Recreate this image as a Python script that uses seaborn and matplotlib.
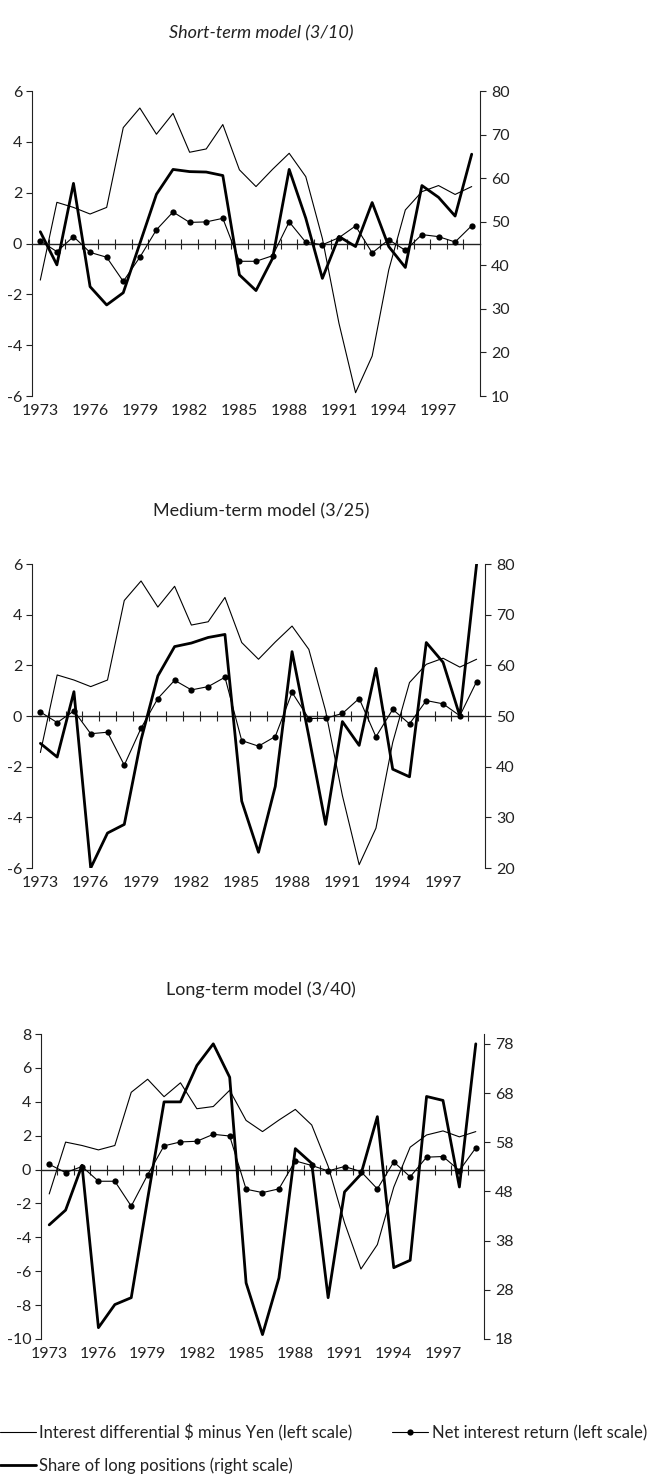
import numpy as np
import pandas as pd
import matplotlib.pyplot as plt
import seaborn as sns
from matplotlib.lines import Line2D

# ── Data ──────────────────────────────────────────────────────────────────────
years = list(range(1973, 2000))

# interest differential $ minus Yen (same in every panel, left scale)
int_diff = [-1.44, 1.62, 1.42, 1.16, 1.42, 4.56, 5.33, 4.30, 5.12, 3.59,
            3.72, 4.68, 2.90, 2.24, 2.92, 3.55, 2.63, 0.20, -3.14, -5.87,
            -4.43, -1.04, 1.32, 2.04, 2.28, 1.93, 2.24]

# net interest return (left scale)
net_short = [0.10, -0.32, 0.27, -0.35, -0.54, -1.49, -0.54, 0.54, 1.24, 0.83,
             0.85, 0.99, -0.70, -0.70, -0.48, 0.85, 0.05, -0.05, 0.23, 0.69,
             -0.37, 0.15, -0.27, 0.35, 0.27, 0.06, 0.70]
net_medium = [0.16, -0.26, 0.20, -0.70, -0.64, -1.94, -0.48, 0.69, 1.41, 1.03,
              1.16, 1.53, -0.97, -1.19, -0.81, 0.93, -0.10, -0.09, 0.10, 0.69,
              -0.82, 0.26, -0.31, 0.61, 0.48, 0.01, 1.36]
net_long = [0.31, -0.18, 0.18, -0.69, -0.69, -2.16, -0.31, 1.40, 1.63, 1.67,
            2.08, 1.98, -1.16, -1.36, -1.14, 0.51, 0.24, -0.08, 0.18, -0.12,
            -1.14, 0.45, -0.43, 0.73, 0.77, -0.06, 1.28]

# share of long positions (right scale)
share_short = [47.7, 40.1, 58.8, 35.1, 30.9, 33.7, 45.0, 56.3, 62.0, 61.5,
               61.4, 60.6, 37.8, 34.2, 41.6, 62.0, 50.8, 37.0, 46.6, 44.3,
               54.4, 44.3, 39.5, 58.3, 55.6, 51.3, 65.5]
share_medium = [44.6, 41.9, 54.8, 20.0, 26.9, 28.6, 45.3, 57.9, 63.7, 64.4,
                65.5, 66.1, 33.2, 23.1, 36.1, 62.7, 46.0, 28.6, 48.9, 44.2,
                59.4, 39.5, 38.0, 64.5, 60.6, 50.0, 80.0]
share_long = [41.2, 44.2, 53.3, 20.3, 25.0, 26.4, 46.5, 66.2, 66.2, 73.6,
              78.0, 71.2, 29.4, 18.9, 30.4, 56.7, 53.7, 26.4, 47.9, 51.5,
              63.2, 32.5, 34.0, 67.3, 66.5, 48.9, 78.0]

titles = ["Short-term model (3/10)", "Medium-term model (3/25)", "Long-term model (3/40)"]
left_ticks = [np.arange(-6, 7, 2), np.arange(-6, 7, 2), np.arange(-10, 9, 2)]
right_ticks = [np.arange(10, 81, 10), np.arange(20, 81, 10), np.arange(18, 79, 10)]
right_lims = [(10, 80), (20, 80), (18, 80)]

panels = [
    pd.DataFrame({"year": years, "diff": int_diff, "net": net_short, "share": share_short}),
    pd.DataFrame({"year": years, "diff": int_diff, "net": net_medium, "share": share_medium}),
    pd.DataFrame({"year": years, "diff": int_diff, "net": net_long, "share": share_long}),
]

# ── Style ─────────────────────────────────────────────────────────────────────
sns.set_style("white")
plt.rcParams["font.family"] = ["Lato", "DejaVu Sans"]
plt.rcParams["axes.unicode_minus"] = False

INK = "#222222"
W, H = 666, 1482
fig = plt.figure(figsize=(W / 100, H / 100), dpi=100)

# axes boxes in pixels: left, right, top, bottom
boxes = [(32, 480, 91, 396), (32, 485, 564, 868), (41, 484, 1034, 1339)]
title_y = [33, 511, 990]

for i, df in enumerate(panels):
    l, r, t, b = boxes[i]
    ax = fig.add_axes([l / W, 1 - b / H, (r - l) / W, (b - t) / H])
    ax2 = ax.twinx()

    sns.lineplot(data=df, x="year", y="diff", ax=ax, color="black", lw=0.8)
    sns.lineplot(data=df, x="year", y="net", ax=ax, color="black", lw=0.8,
                 marker="o", markersize=4.5, markeredgewidth=0)
    sns.lineplot(data=df, x="year", y="share", ax=ax2, color="black", lw=2.0)

    ax.set_xlim(years[0] - 0.5, years[-1] + 0.5)
    ax.set_ylim(left_ticks[i][0], left_ticks[i][-1])
    ax.set_yticks(left_ticks[i])
    ax2.set_ylim(*right_lims[i])
    ax2.set_yticks(right_ticks[i])
    ax.set_xticks(years[::3])
    ax.set_xticklabels([str(y) for y in years[::3]])

    for a in (ax, ax2):
        a.set_xlabel("")
        a.set_ylabel("")
        for s in ("top", "bottom"):
            a.spines[s].set_visible(False)
    ax.spines["right"].set_visible(False)
    ax2.spines["left"].set_visible(False)
    ax.spines["left"].set_color(INK)
    ax2.spines["right"].set_color(INK)
    ax.spines["left"].set_linewidth(0.8)
    ax2.spines["right"].set_linewidth(0.8)

    ax.tick_params(axis="y", direction="out", length=4, width=0.8, colors=INK,
                   labelsize=11.5, pad=3, left=True)
    ax2.tick_params(axis="y", direction="out", length=4, width=0.8, colors=INK,
                    labelsize=11.5, pad=4, right=True)
    ax.tick_params(axis="x", length=0, labelsize=11.5, labelcolor=INK, pad=6)

    # zero line with category ticks
    zero = ax.secondary_xaxis(0, transform=ax.transData)
    zero.set_xticks(np.array(years[:-1]) + 0.5)
    zero.tick_params(axis="x", direction="inout", length=7, width=0.8,
                     colors=INK, labelbottom=False, labeltop=False)
    for s in zero.spines.values():
        s.set_color(INK)
        s.set_linewidth(1.0)

    fig.text(261 / W, 1 - title_y[i] / H, titles[i], ha="center", va="center",
             fontsize=13, color=INK, style="italic" if i == 0 else "normal")

# ── Legend ────────────────────────────────────────────────────────────────────
h_diff = Line2D([], [], color="black", lw=0.8)
h_net = Line2D([], [], color="black", lw=0.8, marker="o", markersize=4.5, markeredgewidth=0)
h_share = Line2D([], [], color="black", lw=2.0)
fig.legend(handles=[h_diff, h_share, h_net],
           labels=["Interest differential $ minus Yen (left scale)",
                   "Share of long positions (right scale)",
                   "Net interest return (left scale)"],
           ncol=2, loc="upper left", bbox_to_anchor=(0.0, 1 - 1424 / H),
           frameon=False, fontsize=12, handlelength=2.15, handletextpad=0.2,
           columnspacing=2.4, labelspacing=1.0, borderaxespad=0, borderpad=0,
           labelcolor=INK)

plt.savefig("out.png", dpi=100)
plt.close()
